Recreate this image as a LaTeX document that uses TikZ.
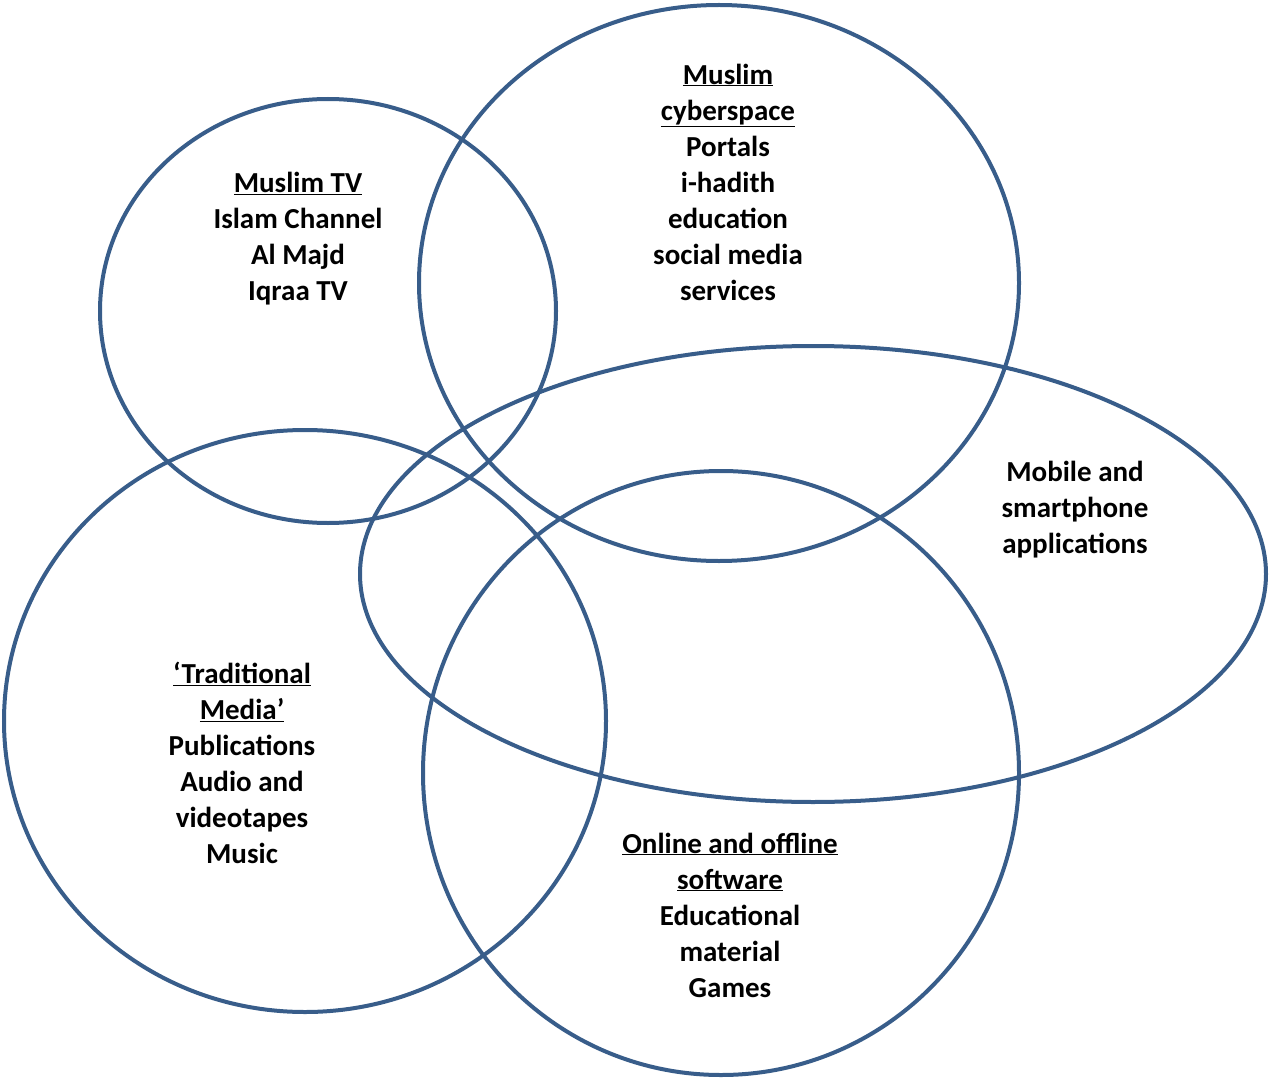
\documentclass[tikz,border=0pt]{standalone}
\usepackage{fontspec}
\setmainfont{Carlito}
\usepackage{tikz}
\usetikzlibrary{positioning}
\usepackage{xcolor}
\definecolor{ringblue}{HTML}{385D8A}

\begin{document}
\begin{tikzpicture}[
  x=1pt, y=-1pt,
  ring/.style={draw=ringblue, line width=4pt},
  tag/.style={align=center, font=\fontsize{29}{36}\selectfont\bfseries, inner sep=0pt}
]
\useasboundingbox (0,0) rectangle (1269,1078);
\draw[ring] (328,311) ellipse [x radius=228, y radius=212];
\draw[ring] (719,283) ellipse [x radius=300, y radius=278];
\draw[ring] (813,574) ellipse [x radius=453, y radius=228];
\draw[ring] (305,721) ellipse [x radius=301, y radius=291];
\draw[ring] (721,773) ellipse [x radius=298, y radius=302];
\node[tag] (tv) at (298,239) {\underline{Muslim TV}\\Islam Channel\\Al Majd\\Iqraa TV};
\node[tag] (cyber) at (728,182) {\underline{Muslim}\\\underline{cyberspace}\\Portals\\i-hadith\\education\\social media\\services};
\node[tag] (mobile) at (1075,510) {Mobile and\\smartphone\\applications};
\node[tag] (trad) at (242,763) {\underline{‘Traditional}\\\underline{Media’}\\Publications\\Audio and\\videotapes\\Music};
\node[tag] (soft) at (730,915) {\underline{Online and offline}\\\underline{software}\\Educational\\material\\Games};
\end{tikzpicture}
\end{document}
